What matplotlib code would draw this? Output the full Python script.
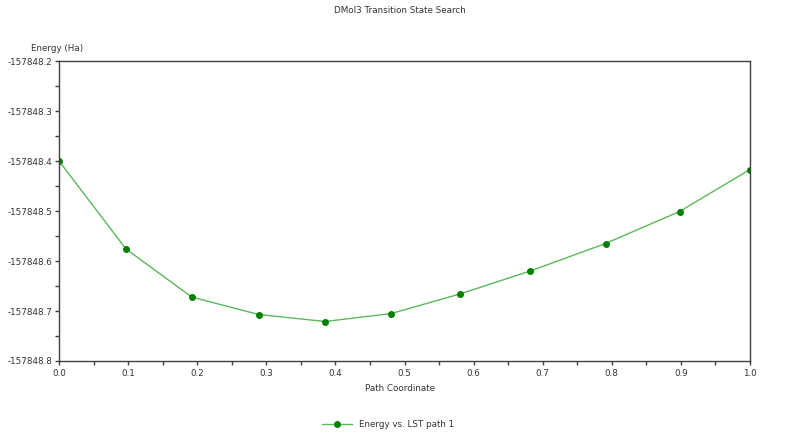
import matplotlib
matplotlib.use("Agg")
import matplotlib.pyplot as plt
from matplotlib.ticker import MultipleLocator, FormatStrFormatter

# path coordinate and energy
coordenada = [0.0, 0.097, 0.192, 0.289, 0.385, 0.481, 0.580, 0.682, 0.791, 0.898, 1.0]
energia = [-157848.400, -157848.576, -157848.672, -157848.707, -157848.721, -157848.705,
           -157848.666, -157848.620, -157848.565, -157848.501, -157848.417]

plt.rcParams['font.family'] = ['DejaVu Sans']
fig = plt.figure(figsize=(8, 4.38), dpi=100)
ax = fig.add_axes([0.07375, 0.1758, 0.86375, 0.6849])

linea, = ax.plot(coordenada, energia, '-', color='#5cb85c', lw=1.0,
                 marker='o', ms=4, mfc='#008000', mec='#008000',
                 label='Energy vs. LST path 1')

ax.set_xlim(0, 1)
ax.set_ylim(-157848.8, -157848.2)
ax.xaxis.set_major_locator(MultipleLocator(0.1))
ax.xaxis.set_minor_locator(MultipleLocator(0.05))
ax.yaxis.set_major_locator(MultipleLocator(0.1))
ax.yaxis.set_minor_locator(MultipleLocator(0.05))
ax.xaxis.set_major_formatter(FormatStrFormatter('%.1f'))
ax.yaxis.set_major_formatter(FormatStrFormatter('%.1f'))
ax.tick_params(which='both', direction='out', length=3, width=1, color='#404040',
               labelsize=6.3, labelcolor='#333333')
ax.tick_params(axis='x', pad=3)
ax.tick_params(axis='y', pad=1.5)
for s in ax.spines.values():
    s.set_color('#404040')
    s.set_linewidth(1)

fig.text(0.5, 0.975, 'DMol3 Transition State Search', ha='center', va='center',
         fontsize=6.3, color='#333333')
fig.text(0.072, 0.89, 'Energy (Ha)', ha='center', va='center', fontsize=6.3, color='#333333')
fig.text(0.5, 0.114, 'Path Coordinate', ha='center', va='center', fontsize=6.3, color='#333333')

fig.legend(handles=[linea], loc='center', bbox_to_anchor=(0.485, 0.03), frameon=False,
           fontsize=6.3, handlelength=3.5, labelcolor='#333333')

fig.savefig('out.png', dpi=100)
